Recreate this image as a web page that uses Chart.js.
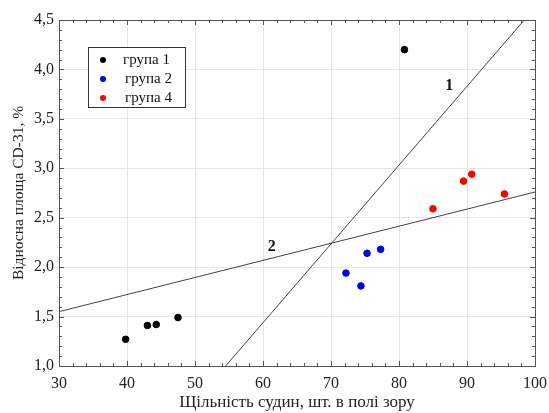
<!DOCTYPE html>
<html>
<head>
<meta charset="utf-8">
<script src="https://cdn.jsdelivr.net/npm/chart.js@4.4.0/dist/chart.umd.min.js"></script>
<style>
  html, body { margin: 0; padding: 0; background: #fff; }
  #wrap { width: 549px; height: 413px; }
</style>
</head>
<body>
<div id="wrap"><canvas id="chart"></canvas></div>
<script>
// Groups (x = vessel density, y = relative CD-31 area)
var group1X = [39.8, 43.0, 44.3, 47.5, 80.8];
var group1Y = [1.27, 1.41, 1.42, 1.49, 4.20];
var group2X = [72.2, 74.4, 75.3, 77.3];
var group2Y = [1.94, 1.81, 2.14, 2.18];
var group4X = [85.0, 89.5, 90.7, 95.5];
var group4Y = [2.59, 2.87, 2.94, 2.74];

// Fitted lines: y = a + b*x
var line1 = { a: -3.344, b: 0.0797 };
var line2 = { a: 1.031, b: 0.01729 };
var lineLabels = ['1', '2'];
var lineLabelX = [87.4, 61.3];
var lineLabelY = [3.83, 2.21];

var legendLabels = ['група 1', 'група 2', 'група 4'];
var groupColors = ['#000000', '#0000ee', '#ff0000'];

var xMin = 30, xMax = 100, yMin = 1.0, yMax = 4.5;

function toPoints(xs, ys) {
  return xs.map(function (x, i) { return { x: x, y: ys[i] } });
}
function linePoints(l) {
  return [{ x: xMin, y: l.a + l.b * xMin }, { x: xMax, y: l.a + l.b * xMax }];
}

var serif = '"Liberation Serif", "Times New Roman", serif';

// minor ticks, frame, legend and line labels
var extras = {
  id: 'extras',
  afterDraw: function (chart) {
    var ctx = chart.ctx;
    var a = chart.chartArea;
    var xs = chart.scales.x, ys = chart.scales.y;
    ctx.save();
    ctx.strokeStyle = '#555';
    ctx.lineWidth = 1;
    ctx.strokeRect(a.left + 0.5, a.top + 0.5, a.right - a.left, a.bottom - a.top);
    ctx.beginPath();
    for (var v = xMin; v <= xMax + 0.001; v += 2) {
      var px = Math.round(xs.getPixelForValue(v)) + 0.5;
      var len = (Math.round(v) % 10 === 0) ? 5 : 3;
      ctx.moveTo(px, a.bottom); ctx.lineTo(px, a.bottom - len);
      ctx.moveTo(px, a.top); ctx.lineTo(px, a.top + len);
    }
    for (var k = 0; k <= 35; k++) {
      var py = Math.round(ys.getPixelForValue(yMin + k * 0.1)) + 0.5;
      var len2 = (k % 5 === 0) ? 5 : 3;
      ctx.moveTo(a.left, py); ctx.lineTo(a.left + len2, py);
      ctx.moveTo(a.right, py); ctx.lineTo(a.right - len2, py);
    }
    ctx.stroke();

    // legend
    ctx.fillStyle = '#fff';
    ctx.fillRect(88.5, 47.5, 97, 60);
    ctx.strokeStyle = '#333';
    ctx.strokeRect(88.5, 47.5, 97, 60);
    ctx.font = '15px ' + serif;
    ctx.textBaseline = 'middle';
    for (var i = 0; i < legendLabels.length; i++) {
      var ly = 60 + i * 19;
      ctx.fillStyle = groupColors[i];
      ctx.beginPath();
      ctx.arc(103, ly, 3, 0, Math.PI * 2);
      ctx.fill();
      ctx.fillStyle = '#111';
      ctx.fillText(legendLabels[i], i === 0 ? 123 : 125, ly);
    }

    // line labels
    ctx.font = 'bold 16px ' + serif;
    ctx.fillStyle = '#111';
    ctx.textAlign = 'center';
    for (var j = 0; j < lineLabels.length; j++) {
      ctx.fillText(lineLabels[j], xs.getPixelForValue(lineLabelX[j]), ys.getPixelForValue(lineLabelY[j]));
    }
    ctx.restore();
  }
};

var dotStyle = function (color, pts) {
  return {
    data: pts, backgroundColor: color, borderColor: color,
    pointRadius: 3.3, pointHoverRadius: 3.3, showLine: false
  };
};
var lineStyle = function (pts) {
  return {
    data: pts, borderColor: '#444', borderWidth: 1, pointRadius: 0,
    showLine: true, fill: false, clip: 0
  };
};

new Chart(document.getElementById('chart'), {
  type: 'scatter',
  data: {
    datasets: [
      lineStyle(linePoints(line1)),
      lineStyle(linePoints(line2)),
      dotStyle(groupColors[0], toPoints(group1X, group1Y)),
      dotStyle(groupColors[1], toPoints(group2X, group2Y)),
      dotStyle(groupColors[2], toPoints(group4X, group4Y))
    ]
  },
  options: {
    responsive: true,
    maintainAspectRatio: false,
    animation: false,
    layout: { padding: { top: 20, right: 14, left: 0, bottom: 0 } },
    plugins: { legend: { display: false }, tooltip: { enabled: false } },
    scales: {
      x: {
        type: 'linear', min: xMin, max: xMax,
        ticks: { stepSize: 10, padding: 8, color: '#222', font: { family: serif, size: 16 } },
        grid: { color: '#e6e6e6', drawTicks: false },
        border: { display: false },
        title: { display: true, text: 'Щільність судин, шт. в полі зору', color: '#222',
          font: { family: serif, size: 17 }, padding: { top: 0, bottom: 0 } },
        afterFit: function (s) { s.height = 47; s.paddingRight = 0; s.paddingLeft = 0; }
      },
      y: {
        type: 'linear', min: yMin, max: yMax,
        ticks: { stepSize: 0.5, padding: 5, color: '#222', font: { family: serif, size: 16 },
          callback: function (v) { return v.toFixed(1).replace('.', ','); } },
        grid: { color: '#e6e6e6', drawTicks: false },
        border: { display: false },
        title: { display: true, text: 'Відносна площа CD-31, %', color: '#222',
          font: { family: serif, size: 15.5 }, padding: { top: 10, bottom: 0 } },
        afterFit: function (s) { s.width = 59; s.paddingTop = 0; s.paddingBottom = 0; }
      }
    }
  },
  plugins: [extras]
});
</script>
</body>
</html>
